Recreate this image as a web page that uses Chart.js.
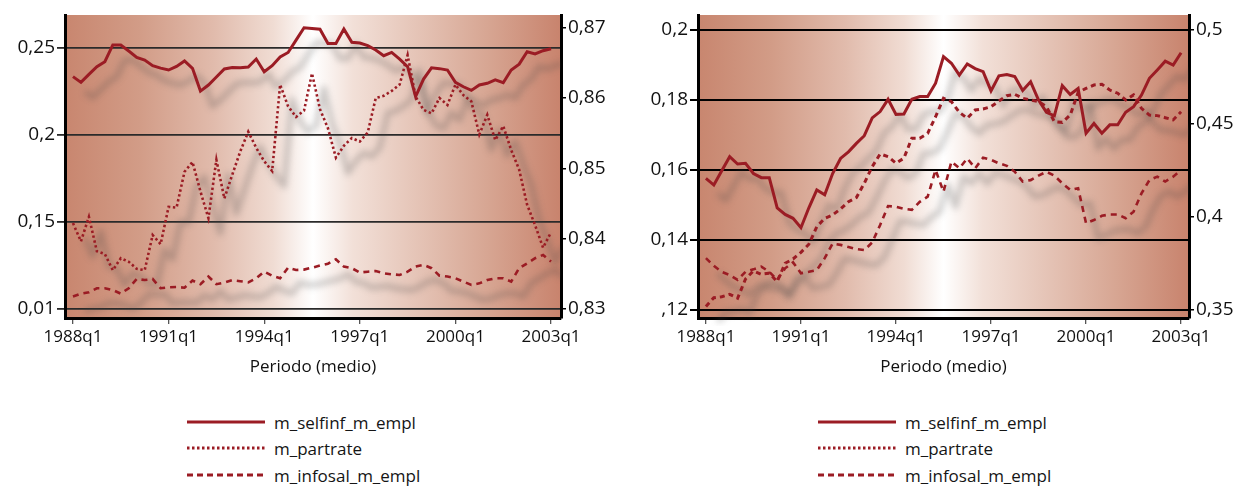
<!DOCTYPE html>
<html>
<head>
<meta charset="utf-8">
<script src="https://cdn.jsdelivr.net/npm/chart.js@4.4.0/dist/chart.umd.min.js"></script>
<style>
  html, body { margin: 0; padding: 0; background: #fff; }
  body { width: 1237px; height: 486px; position: relative; overflow: hidden; font-family: 'Open Sans', sans-serif; }
  canvas { position: absolute; top: 0; }
  .legend-row { position: absolute; height: 20px; display: flex; align-items: center; font-size: 17px; color: #151515; white-space: nowrap; }
  .legend-row svg { margin-right: 9px; }
</style>
</head>
<body>
<canvas id="chartLeft" width="618" height="380" style="left:0"></canvas>
<canvas id="chartRight" width="619" height="380" style="left:618px"></canvas>
<script>
// Quarterly series, index 0 = 1988q1 ... 60 = 2003q1
const xTickPos = [0, 12, 24, 36, 48, 60];
const xTickLabels = ['1988q1', '1991q1', '1994q1', '1997q1', '2000q1', '2003q1'];

// --- panel izquierdo ---
const leftSelfinf = [
  0.2334, 0.2301, 0.2347, 0.2391, 0.2420, 0.2516, 0.2516, 0.2481, 0.2445, 0.2429,
  0.2397, 0.2383, 0.2372, 0.2393, 0.2424, 0.2382, 0.2251, 0.2286, 0.2332, 0.2378,
  0.2387, 0.2385, 0.2389, 0.2435, 0.2362, 0.2397, 0.2447, 0.2473, 0.2544, 0.2615,
  0.2611, 0.2606, 0.2525, 0.2525, 0.2607, 0.2531, 0.2527, 0.2512, 0.2487, 0.2454,
  0.2473, 0.2435, 0.2391, 0.2219, 0.2320, 0.2385, 0.2380, 0.2372, 0.2301, 0.2276,
  0.2255, 0.2286, 0.2296, 0.2315, 0.2299, 0.2372, 0.2406, 0.2477, 0.2464, 0.2483, 0.2494
];
const leftPartrate = [
  0.8422, 0.8396, 0.8431, 0.8382, 0.8378, 0.8355, 0.8372, 0.8367, 0.8357, 0.8355,
  0.8405, 0.8392, 0.8445, 0.8444, 0.8495, 0.8509, 0.8467, 0.8429, 0.8512, 0.8457,
  0.8491, 0.8524, 0.8552, 0.8529, 0.8510, 0.8496, 0.8619, 0.8588, 0.8573, 0.8582,
  0.8635, 0.8584, 0.8557, 0.8515, 0.8532, 0.8543, 0.8538, 0.8551, 0.8600, 0.8603,
  0.8610, 0.8619, 0.8661, 0.8602, 0.8583, 0.8578, 0.8600, 0.8590, 0.8619, 0.8604,
  0.8595, 0.8548, 0.8576, 0.8540, 0.8560, 0.8526, 0.8498, 0.8448, 0.8419, 0.8387, 0.8409
];
const leftInfosal = [
  0.1071, 0.1088, 0.1096, 0.1119, 0.1119, 0.1109, 0.1088, 0.1119, 0.1172, 0.1166,
  0.1172, 0.1119, 0.1124, 0.1126, 0.1122, 0.1163, 0.1142, 0.1186, 0.1142, 0.1151,
  0.1165, 0.1159, 0.1153, 0.1176, 0.1214, 0.1191, 0.1176, 0.1237, 0.1224, 0.1226,
  0.1237, 0.1249, 0.1260, 0.1285, 0.1243, 0.1234, 0.1209, 0.1214, 0.1218, 0.1205,
  0.1199, 0.1195, 0.1214, 0.1243, 0.1253, 0.1234, 0.1191, 0.1186, 0.1176, 0.1157,
  0.1138, 0.1147, 0.1166, 0.1176, 0.1176, 0.1157, 0.1234, 0.1262, 0.1291, 0.1310, 0.1272
];
const leftYTicks = [0.10, 0.15, 0.20, 0.25];
const leftYTickLabels = ['0,01', '0,15', '0,2', '0,25'];
const leftY2Ticks = [0.83, 0.84, 0.85, 0.86, 0.87];
const leftY2TickLabels = ['0,83', '0,84', '0,85', '0,86', '0,87'];

// --- panel derecho ---
const rightSelfinf = [
  0.1576, 0.1557, 0.1598, 0.1638, 0.1617, 0.1619, 0.1590, 0.1578, 0.1578, 0.1492,
  0.1473, 0.1462, 0.1435, 0.1492, 0.1543, 0.1529, 0.1590, 0.1633, 0.1652, 0.1676,
  0.1698, 0.1749, 0.1767, 0.1802, 0.1759, 0.1760, 0.1802, 0.1810, 0.1810, 0.1848,
  0.1924, 0.1905, 0.1871, 0.1903, 0.1890, 0.1881, 0.1826, 0.1869, 0.1873, 0.1867,
  0.1827, 0.1852, 0.1800, 0.1765, 0.1755, 0.1841, 0.1816, 0.1833, 0.1705, 0.1733,
  0.1705, 0.1729, 0.1729, 0.1765, 0.1781, 0.1814, 0.1862, 0.1886, 0.1911, 0.1900, 0.1935
];
const rightPartrate = [
  0.3518, 0.3566, 0.3571, 0.3584, 0.3563, 0.3666, 0.3709, 0.3691, 0.3697, 0.3652,
  0.3750, 0.3773, 0.3809, 0.3852, 0.3946, 0.3991, 0.4009, 0.4041, 0.4080, 0.4102,
  0.4179, 0.4268, 0.4336, 0.4321, 0.4286, 0.4313, 0.4420, 0.4420, 0.4446, 0.4535,
  0.4634, 0.4616, 0.4559, 0.4527, 0.4571, 0.4577, 0.4589, 0.4619, 0.4648, 0.4655,
  0.4634, 0.4625, 0.4616, 0.4589, 0.4509, 0.4505, 0.4544, 0.4666, 0.4687, 0.4705,
  0.4709, 0.4678, 0.4661, 0.4625, 0.4652, 0.4580, 0.4544, 0.4541, 0.4530, 0.4518, 0.4562
];
const rightInfosal = [
  0.1348, 0.1326, 0.1309, 0.1300, 0.1286, 0.1309, 0.1316, 0.1324, 0.1309, 0.1286,
  0.1319, 0.1336, 0.1305, 0.1309, 0.1314, 0.1348, 0.1390, 0.1386, 0.1380, 0.1374,
  0.1371, 0.1393, 0.1443, 0.1497, 0.1495, 0.1489, 0.1486, 0.1509, 0.1524, 0.1600,
  0.1538, 0.1624, 0.1605, 0.1633, 0.1605, 0.1635, 0.1629, 0.1619, 0.1612, 0.1595,
  0.1567, 0.1571, 0.1584, 0.1595, 0.1584, 0.1562, 0.1543, 0.1548, 0.1448, 0.1457,
  0.1469, 0.1473, 0.1473, 0.1462, 0.1481, 0.1533, 0.1571, 0.1581, 0.1567, 0.1581, 0.1600
];
const rightYTicks = [0.12, 0.14, 0.16, 0.18, 0.20];
const rightYTickLabels = [',12', '0,14', '0,16', '0,18', '0,2'];
const rightY2Ticks = [0.35, 0.40, 0.45, 0.50];
const rightY2TickLabels = ['0,35', '0,4', '0,45', '0,5'];

const seriesNames = ['m_selfinf_m_empl', 'm_partrate', 'm_infosal_m_empl'];
const LINE_COLOR = '#9b1c24';

Chart.defaults.font.family = "'Open Sans', sans-serif";
Chart.defaults.color = '#111';

// fondo degradado: oscuro en los bordes, blanco en el centro
const plotBackground = {
  id: 'plotBackground',
  beforeDraw(chart) {
    const { ctx, chartArea: a } = chart;
    const g = ctx.createLinearGradient(a.left, 0, a.right, 0);
    g.addColorStop(0, '#c8866f');
    g.addColorStop(0.15, '#d29c87');
    g.addColorStop(0.3, '#e1bbac');
    g.addColorStop(0.42, '#f0dcd3');
    g.addColorStop(0.5, '#ffffff');
    g.addColorStop(0.58, '#f2e0d8');
    g.addColorStop(0.7, '#e6c6b9');
    g.addColorStop(0.85, '#d7a693');
    g.addColorStop(1, '#c8836d');
    ctx.save();
    ctx.fillStyle = g;
    ctx.fillRect(a.left, a.top, a.right - a.left, a.bottom - a.top);
    ctx.restore();
  }
};

// sombra gris difuminada, desplazada abajo a la derecha de cada serie
const lineShadows = {
  id: 'lineShadows',
  beforeDatasetsDraw(chart) {
    const { ctx, chartArea: a } = chart;
    ctx.save();
    ctx.beginPath();
    ctx.rect(a.left, a.top, a.right - a.left, a.bottom - a.top + 8);
    ctx.clip();
    ctx.filter = 'blur(3px)';
    ctx.strokeStyle = 'rgba(70, 70, 70, 0.26)';
    ctx.lineWidth = 5.5;
    ctx.lineJoin = 'round';
    chart.data.datasets.forEach((ds, di) => {
      const pts = chart.getDatasetMeta(di).data;
      ctx.beginPath();
      pts.forEach((p, i) => {
        if (i === 0) ctx.moveTo(p.x + 12, p.y + 15);
        else ctx.lineTo(p.x + 12, p.y + 15);
      });
      ctx.stroke();
    });
    ctx.restore();
  }
};

function labelFor(ticks, labels) {
  return value => {
    const i = ticks.findIndex(t => Math.abs(t - value) < 1e-9);
    return i >= 0 ? labels[i] : '';
  };
}

function buildPanel(canvasId, p) {
  const toPoints = values => values.map((v, i) => ({ x: i, y: v }));
  const datasets = [
    { label: seriesNames[0], data: toPoints(p.selfinf), yAxisID: 'y', borderWidth: 3, borderDash: [] },
    { label: seriesNames[1], data: toPoints(p.partrate), yAxisID: 'y2', borderWidth: p.partrateWidth, borderDash: p.partrateDash },
    { label: seriesNames[2], data: toPoints(p.infosal), yAxisID: 'y', borderWidth: 2.6, borderDash: p.infosalDash }
  ].map(ds => Object.assign(ds, {
    borderColor: LINE_COLOR,
    pointRadius: 0,
    tension: 0,
    fill: false
  }));

  return new Chart(document.getElementById(canvasId), {
    type: 'line',
    data: { datasets },
    plugins: [plotBackground, lineShadows],
    options: {
      responsive: false,
      animation: false,
      layout: { padding: { top: 15, left: 0, right: 0, bottom: 0 } },
      plugins: { legend: { display: false }, tooltip: { enabled: false } },
      scales: {
        x: {
          type: 'linear',
          min: -1,
          max: p.xMax,
          afterBuildTicks: s => { s.ticks = xTickPos.map(v => ({ value: v })); },
          afterFit: s => { s.height = 62; },
          ticks: {
            autoSkip: false,
            maxRotation: 0,
            padding: 3,
            font: { size: 17 },
            callback: labelFor(xTickPos, xTickLabels)
          },
          grid: { drawOnChartArea: false, drawTicks: true, tickLength: 6, color: '#555', lineWidth: 1.3 },
          border: { display: true, color: '#000', width: 3 },
          title: {
            display: true,
            text: 'Periodo (medio)',
            font: { size: 17 },
            padding: { top: 2, bottom: 3 }
          }
        },
        y: {
          position: 'left',
          min: p.yMin,
          max: p.yMax,
          afterBuildTicks: s => { s.ticks = p.yTicks.map(v => ({ value: v })); },
          afterFit: s => { s.width = p.leftWidth; },
          ticks: { padding: 2, font: { size: 19 }, callback: labelFor(p.yTicks, p.yTickLabels) },
          grid: { color: p.gridColor, lineWidth: p.gridWidth, drawTicks: true, tickLength: 8 },
          border: { display: true, color: '#000', width: 3 }
        },
        y2: {
          position: 'right',
          min: p.y2Min,
          max: p.y2Max,
          afterBuildTicks: s => { s.ticks = p.y2Ticks.map(v => ({ value: v })); },
          afterFit: s => { s.width = p.rightWidth; },
          ticks: { padding: 2, font: { size: 19 }, callback: labelFor(p.y2Ticks, p.y2TickLabels) },
          grid: { drawOnChartArea: false, drawTicks: true, tickLength: 5, color: '#000', lineWidth: 1.5 },
          border: { display: true, color: '#000', width: 3 }
        }
      }
    }
  });
}

// leyenda vertical bajo cada panel
function buildLegend(left, dashes) {
  const rowCenters = [422, 448, 475];
  seriesNames.forEach((name, i) => {
    const row = document.createElement('div');
    row.className = 'legend-row';
    row.style.left = left + 'px';
    row.style.top = (rowCenters[i] - 10) + 'px';
    const dash = dashes[i] ? ` stroke-dasharray="${dashes[i]}"` : '';
    row.innerHTML =
      `<svg width="78" height="8"><line x1="0" y1="4" x2="78" y2="4" stroke="${LINE_COLOR}" stroke-width="3"${dash}/></svg>` +
      `<span>${name}</span>`;
    document.body.appendChild(row);
  });
}

buildPanel('chartLeft', {
  selfinf: leftSelfinf, partrate: leftPartrate, infosal: leftInfosal,
  yTicks: leftYTicks, yTickLabels: leftYTickLabels,
  y2Ticks: leftY2Ticks, y2TickLabels: leftY2TickLabels,
  yMin: 0.0948, yMax: 0.2688, y2Min: 0.8287, y2Max: 0.8718, xMax: 61.25,
  leftWidth: 65, rightWidth: 57,
  gridColor: '#2a2a2a', gridWidth: 1.8,
  partrateDash: [2.4, 2.6], partrateWidth: 2.6, infosalDash: [6, 5]
});

buildPanel('chartRight', {
  selfinf: rightSelfinf, partrate: rightPartrate, infosal: rightInfosal,
  yTicks: rightYTicks, yTickLabels: rightYTickLabels,
  y2Ticks: rightY2Ticks, y2TickLabels: rightY2TickLabels,
  yMin: 0.1177, yMax: 0.2043, y2Min: 0.3457, y2Max: 0.5080, xMax: 61,
  leftWidth: 80, rightWidth: 48,
  gridColor: '#000', gridWidth: 2,
  partrateDash: [5, 4], partrateWidth: 3, infosalDash: [6, 5]
});

buildLegend(187, ['', '2.5 2.5', '6 4']);
buildLegend(818, ['', '2.5 2.5', '6 4']);
</script>
</body>
</html>
